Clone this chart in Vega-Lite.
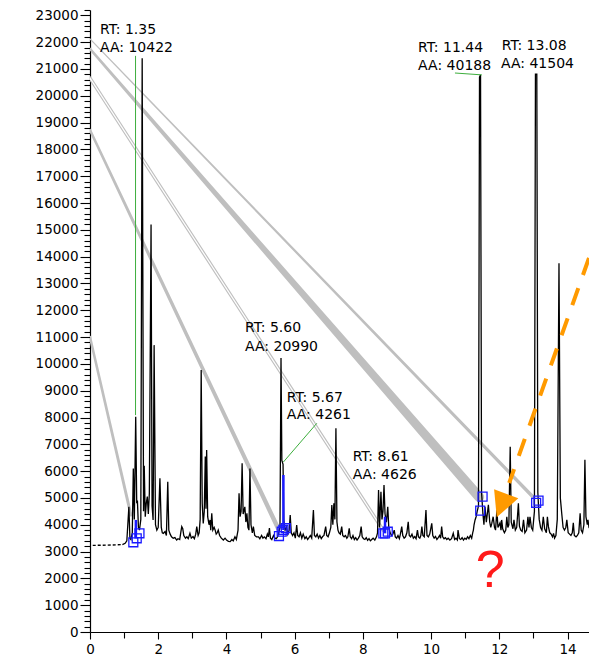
{
"$schema": "https://vega.github.io/schema/vega-lite/v6.json",
"width": 499, "height": 622,
"autosize": "none",
"padding": {"left": 90, "top": 10, "right": 0, "bottom": 27},
"background": "white",
"config": {"view": {"stroke": null}, "axis": {"grid": false, "domainColor": "black", "tickColor": "black", "labelColor": "black", "labelFont": "DejaVu Sans", "labelFontSize": 13.5, "domainWidth": 1.2, "tickWidth": 1.1}},
"datasets": {
"trace": [
{"t":0.95,"v":3260},{"t":1.03,"v":3310},{"t":1.08,"v":3400},{"t":1.14,"v":4670},{"t":1.17,"v":3500},{"t":1.2,"v":3450},{"t":1.24,"v":3700},{"t":1.27,"v":6100},{"t":1.3,"v":4200},{"t":1.34,"v":8030},{"t":1.37,"v":4800},{"t":1.39,"v":4900},{"t":1.42,"v":3900},{"t":1.45,"v":3800},{"t":1.49,"v":4200},{"t":1.53,"v":21400},{"t":1.57,"v":4500},{"t":1.59,"v":6200},{"t":1.62,"v":4300},{"t":1.65,"v":4800},{"t":1.68,"v":5050},{"t":1.71,"v":4400},{"t":1.74,"v":5170},{"t":1.79,"v":15200},{"t":1.82,"v":4700},{"t":1.85,"v":4180},{"t":1.88,"v":10700},{"t":1.92,"v":4000},{"t":1.96,"v":3800},{"t":2.0,"v":3900},{"t":2.05,"v":5730},{"t":2.09,"v":3900},{"t":2.12,"v":3700},{"t":2.15,"v":3680},{"t":2.2,"v":3750},{"t":2.24,"v":3600},{"t":2.28,"v":5600},{"t":2.31,"v":3800},{"t":2.35,"v":3650},{"t":2.39,"v":3550},{"t":2.44,"v":3500},{"t":2.49,"v":3520},{"t":2.54,"v":3430},{"t":2.58,"v":3480},{"t":2.63,"v":3450},{"t":2.66,"v":3700},{"t":2.69,"v":3930},{"t":2.72,"v":3850},{"t":2.75,"v":3600},{"t":2.8,"v":3500},{"t":2.84,"v":3550},{"t":2.88,"v":3480},{"t":2.93,"v":3680},{"t":2.97,"v":3500},{"t":3.02,"v":3560},{"t":3.06,"v":3480},{"t":3.1,"v":3650},{"t":3.13,"v":3930},{"t":3.17,"v":3600},{"t":3.2,"v":3700},{"t":3.23,"v":4200},{"t":3.26,"v":9770},{"t":3.29,"v":4800},{"t":3.32,"v":4050},{"t":3.35,"v":4500},{"t":3.38,"v":6550},{"t":3.4,"v":4600},{"t":3.42,"v":6790},{"t":3.45,"v":4300},{"t":3.49,"v":4000},{"t":3.52,"v":4180},{"t":3.54,"v":3800},{"t":3.57,"v":4430},{"t":3.6,"v":3800},{"t":3.64,"v":3900},{"t":3.67,"v":3800},{"t":3.7,"v":3650},{"t":3.73,"v":3700},{"t":3.76,"v":3800},{"t":3.8,"v":3600},{"t":3.85,"v":3500},{"t":3.91,"v":3430},{"t":3.96,"v":3500},{"t":4.01,"v":3420},{"t":4.06,"v":3380},{"t":4.11,"v":3370},{"t":4.16,"v":3450},{"t":4.2,"v":3400},{"t":4.25,"v":3550},{"t":4.29,"v":3450},{"t":4.34,"v":3800},{"t":4.37,"v":5170},{"t":4.4,"v":4300},{"t":4.43,"v":4500},{"t":4.46,"v":6290},{"t":4.49,"v":4400},{"t":4.51,"v":4500},{"t":4.54,"v":4670},{"t":4.57,"v":4100},{"t":4.6,"v":4430},{"t":4.63,"v":3900},{"t":4.66,"v":3800},{"t":4.69,"v":6100},{"t":4.72,"v":4000},{"t":4.76,"v":3700},{"t":4.79,"v":3930},{"t":4.83,"v":3600},{"t":4.88,"v":3550},{"t":4.94,"v":3550},{"t":4.98,"v":3480},{"t":5.03,"v":3600},{"t":5.07,"v":3500},{"t":5.11,"v":3550},{"t":5.16,"v":3480},{"t":5.2,"v":3650},{"t":5.23,"v":3550},{"t":5.26,"v":3880},{"t":5.29,"v":3500},{"t":5.33,"v":3450},{"t":5.38,"v":3600},{"t":5.42,"v":3500},{"t":5.46,"v":3480},{"t":5.5,"v":3550},{"t":5.53,"v":3700},{"t":5.57,"v":3900},{"t":5.6,"v":10220},{"t":5.625,"v":6400},{"t":5.66,"v":6250},{"t":5.68,"v":4200},{"t":5.72,"v":3800},{"t":5.76,"v":3900},{"t":5.8,"v":3650},{"t":5.84,"v":3800},{"t":5.87,"v":4364},{"t":5.9,"v":3700},{"t":5.94,"v":3600},{"t":5.98,"v":3700},{"t":6.02,"v":3500},{"t":6.06,"v":3990},{"t":6.09,"v":3600},{"t":6.13,"v":3550},{"t":6.17,"v":3700},{"t":6.21,"v":3500},{"t":6.25,"v":3650},{"t":6.3,"v":3480},{"t":6.34,"v":3550},{"t":6.38,"v":3450},{"t":6.42,"v":3520},{"t":6.46,"v":3600},{"t":6.5,"v":3500},{"t":6.55,"v":4550},{"t":6.58,"v":3600},{"t":6.62,"v":3550},{"t":6.66,"v":3650},{"t":6.7,"v":3500},{"t":6.74,"v":3600},{"t":6.78,"v":3480},{"t":6.82,"v":3560},{"t":6.86,"v":3600},{"t":6.91,"v":3930},{"t":6.94,"v":3600},{"t":6.98,"v":3550},{"t":7.02,"v":3700},{"t":7.06,"v":3900},{"t":7.09,"v":4740},{"t":7.12,"v":4000},{"t":7.15,"v":4800},{"t":7.18,"v":4200},{"t":7.21,"v":7600},{"t":7.24,"v":4100},{"t":7.27,"v":3800},{"t":7.3,"v":3700},{"t":7.34,"v":3650},{"t":7.38,"v":3930},{"t":7.41,"v":3600},{"t":7.45,"v":3550},{"t":7.49,"v":3600},{"t":7.53,"v":3500},{"t":7.56,"v":3550},{"t":7.6,"v":3870},{"t":7.63,"v":3550},{"t":7.67,"v":3480},{"t":7.71,"v":3600},{"t":7.75,"v":3450},{"t":7.79,"v":3520},{"t":7.83,"v":3430},{"t":7.87,"v":3500},{"t":7.91,"v":3600},{"t":7.95,"v":3930},{"t":7.98,"v":3550},{"t":8.02,"v":3480},{"t":8.06,"v":3450},{"t":8.1,"v":3520},{"t":8.14,"v":3420},{"t":8.18,"v":3480},{"t":8.22,"v":3400},{"t":8.26,"v":3450},{"t":8.3,"v":3500},{"t":8.35,"v":3430},{"t":8.4,"v":3550},{"t":8.43,"v":3700},{"t":8.46,"v":5300},{"t":8.49,"v":3900},{"t":8.53,"v":5230},{"t":8.56,"v":4200},{"t":8.59,"v":4500},{"t":8.62,"v":5480},{"t":8.65,"v":4400},{"t":8.69,"v":4100},{"t":8.73,"v":4670},{"t":8.76,"v":3900},{"t":8.8,"v":3700},{"t":8.84,"v":3600},{"t":8.88,"v":3650},{"t":8.92,"v":3800},{"t":8.95,"v":3550},{"t":8.99,"v":3500},{"t":9.03,"v":3600},{"t":9.07,"v":3480},{"t":9.1,"v":3650},{"t":9.14,"v":3930},{"t":9.17,"v":3600},{"t":9.21,"v":3500},{"t":9.25,"v":3550},{"t":9.29,"v":3700},{"t":9.33,"v":4110},{"t":9.36,"v":3600},{"t":9.4,"v":3550},{"t":9.44,"v":3650},{"t":9.48,"v":3500},{"t":9.52,"v":3560},{"t":9.56,"v":3480},{"t":9.6,"v":3800},{"t":9.63,"v":3550},{"t":9.67,"v":3500},{"t":9.7,"v":3600},{"t":9.73,"v":3930},{"t":9.76,"v":3600},{"t":9.8,"v":3550},{"t":9.85,"v":4550},{"t":9.88,"v":3600},{"t":9.92,"v":3550},{"t":9.96,"v":3650},{"t":10.02,"v":4050},{"t":10.05,"v":3600},{"t":10.09,"v":3500},{"t":10.13,"v":3560},{"t":10.17,"v":3450},{"t":10.21,"v":3520},{"t":10.25,"v":3600},{"t":10.28,"v":3500},{"t":10.31,"v":3930},{"t":10.34,"v":3550},{"t":10.38,"v":3480},{"t":10.42,"v":3520},{"t":10.46,"v":3450},{"t":10.5,"v":3500},{"t":10.55,"v":3430},{"t":10.6,"v":3480},{"t":10.65,"v":3680},{"t":10.69,"v":3450},{"t":10.73,"v":3500},{"t":10.77,"v":3430},{"t":10.79,"v":3800},{"t":10.83,"v":3480},{"t":10.87,"v":3450},{"t":10.91,"v":3520},{"t":10.95,"v":3430},{"t":10.99,"v":3500},{"t":11.03,"v":3460},{"t":11.07,"v":3550},{"t":11.11,"v":3480},{"t":11.15,"v":3600},{"t":11.19,"v":3500},{"t":11.22,"v":3700},{"t":11.24,"v":3800},{"t":11.26,"v":4000},{"t":11.29,"v":4180},{"t":11.32,"v":4300},{"t":11.35,"v":4490},{"t":11.39,"v":4700},{"t":11.42,"v":20700},{"t":11.45,"v":20780},{"t":11.48,"v":5200},{"t":11.52,"v":4400},{"t":11.55,"v":4000},{"t":11.58,"v":4670},{"t":11.62,"v":4100},{"t":11.68,"v":4740},{"t":11.72,"v":4100},{"t":11.75,"v":3900},{"t":11.78,"v":4050},{"t":11.82,"v":4300},{"t":11.86,"v":3900},{"t":11.89,"v":3800},{"t":11.93,"v":4550},{"t":11.96,"v":3900},{"t":12.02,"v":4070},{"t":12.05,"v":3800},{"t":12.07,"v":4180},{"t":12.1,"v":3850},{"t":12.15,"v":3700},{"t":12.19,"v":3800},{"t":12.22,"v":4300},{"t":12.25,"v":3900},{"t":12.28,"v":4000},{"t":12.32,"v":6910},{"t":12.35,"v":4100},{"t":12.4,"v":3850},{"t":12.43,"v":4180},{"t":12.47,"v":3800},{"t":12.51,"v":3900},{"t":12.56,"v":4800},{"t":12.59,"v":3950},{"t":12.63,"v":3800},{"t":12.67,"v":3750},{"t":12.71,"v":4180},{"t":12.75,"v":3700},{"t":12.8,"v":3800},{"t":12.84,"v":4300},{"t":12.87,"v":3900},{"t":12.9,"v":4300},{"t":12.94,"v":3900},{"t":12.98,"v":3800},{"t":13.03,"v":4500},{"t":13.06,"v":20810},{"t":13.1,"v":20810},{"t":13.13,"v":5200},{"t":13.17,"v":4200},{"t":13.21,"v":3900},{"t":13.25,"v":3800},{"t":13.29,"v":4300},{"t":13.33,"v":3850},{"t":13.38,"v":3700},{"t":13.41,"v":4300},{"t":13.44,"v":3930},{"t":13.48,"v":3700},{"t":13.52,"v":3650},{"t":13.56,"v":3550},{"t":13.59,"v":3680},{"t":13.62,"v":3500},{"t":13.66,"v":3600},{"t":13.7,"v":4200},{"t":13.75,"v":13750},{"t":13.79,"v":5000},{"t":13.83,"v":4430},{"t":13.87,"v":3900},{"t":13.91,"v":3800},{"t":13.95,"v":3900},{"t":13.98,"v":4180},{"t":14.02,"v":3700},{"t":14.06,"v":3650},{"t":14.1,"v":3600},{"t":14.14,"v":3700},{"t":14.17,"v":4070},{"t":14.2,"v":3600},{"t":14.25,"v":3550},{"t":14.29,"v":3600},{"t":14.33,"v":3700},{"t":14.37,"v":4430},{"t":14.4,"v":3800},{"t":14.44,"v":3700},{"t":14.48,"v":4000},{"t":14.51,"v":6420},{"t":14.54,"v":4300},{"t":14.58,"v":4000},{"t":14.6,"v":4180},{"t":14.63,"v":3900},{"t":14.7,"v":3800}
],
"dotted": [{"t":0.08,"v":3230},{"t":0.5,"v":3240},{"t":0.95,"v":3260}],
"beams": [
{"b":"A","p":"A0","t":0,"v":22120},{"b":"A","p":"A1","t":12.99,"v":5036},
{"b":"B","p":"B0","t":0,"v":21750},{"b":"B","p":"B1","t":11.41,"v":5036},
{"b":"C","p":"C0","t":0,"v":20660},{"b":"C","p":"C1","t":8.59,"v":3805},
{"b":"D","p":"D0","t":0,"v":18725},{"b":"D","p":"D1","t":5.52,"v":3850},
{"b":"E","p":"E0","t":0,"v":11000},{"b":"E","p":"E1","t":1.2,"v":4364}
],
"green": [
{"g":"g1","t":1.335,"v":21490},{"g":"g1","t":1.3351,"v":8090},
{"g":"g2","t":5.67,"v":6340},{"g":"g2","t":6.65,"v":7785},
{"g":"g3","t":10.7,"v":20850},{"g":"g3","t":11.49,"v":20780}
],
"squares": [
{"t":1.27,"v":3346},{"t":1.37,"v":3495},{"t":1.45,"v":3682},
{"t":5.54,"v":3580},{"t":5.62,"v":3740},{"t":5.67,"v":3805},{"t":5.74,"v":3870},
{"t":8.6,"v":3680},{"t":8.65,"v":3680},{"t":8.73,"v":3740},
{"t":11.51,"v":5050},{"t":11.44,"v":4525},
{"t":13.08,"v":4820},{"t":13.15,"v":4900}
],
"bluerules": [
{"t":1.345,"v":4180,"v2":3540},{"t":5.67,"v":5856,"v2":3805},{"t":8.65,"v":4300,"v2":3680}
],
"arrow": [{"t":14.63,"v":13950},{"t":12.29,"v":5558}],
"head": [{"t":12.205,"v":4800}],
"labels": [
{"s":"RT: 1.35","t":0.293,"v":22455},{"s":"AA: 10422","t":0.293,"v":21783},
{"s":"RT: 11.44","t":9.62,"v":21783},{"s":"AA: 40188","t":9.62,"v":21112},
{"s":"RT: 13.08","t":12.07,"v":21858},{"s":"AA: 41504","t":12.05,"v":21186},
{"s":"RT: 5.60","t":4.545,"v":11339},{"s":"AA: 20990","t":4.545,"v":10630},
{"s":"RT: 5.67","t":5.77,"v":8717},{"s":"AA: 4261","t":5.77,"v":8094},
{"s":"RT: 8.61","t":7.7,"v":6516},{"s":"AA: 4626","t":7.7,"v":5856}
],
"qmark": [{"s":"?","t":11.73,"v":1680}]
},
"encoding": {
"x": {"field": "t", "type": "quantitative", "scale": {"domain": [0, 14.63], "nice": false, "zero": false},
  "axis": {"title": null, "values": [0,0.5,1,1.5,2,2.5,3,3.5,4,4.5,5,5.5,6,6.5,7,7.5,8,8.5,9,9.5,10,10.5,11,11.5,12,12.5,13,13.5,14,14.5],
   "labelExpr": "datum.value % 2 === 0 ? datum.label : ''", "labelFlush": false, "labelOverlap": false, "format": "d",
   "tickSize": {"condition": {"test": "datum.value % 2 === 0", "value": 7}, "value": 6}, "labelPadding": 3}},
"y": {"field": "v", "type": "quantitative", "scale": {"domain": [0, 23200], "nice": false},
  "axis": {"title": null, "values": [0,200,400,600,800,1000,1200,1400,1600,1800,2000,2200,2400,2600,2800,3000,3200,3400,3600,3800,4000,4200,4400,4600,4800,5000,5200,5400,5600,5800,6000,6200,6400,6600,6800,7000,7200,7400,7600,7800,8000,8200,8400,8600,8800,9000,9200,9400,9600,9800,10000,10200,10400,10600,10800,11000,11200,11400,11600,11800,12000,12200,12400,12600,12800,13000,13200,13400,13600,13800,14000,14200,14400,14600,14800,15000,15200,15400,15600,15800,16000,16200,16400,16600,16800,17000,17200,17400,17600,17800,18000,18200,18400,18600,18800,19000,19200,19400,19600,19800,20000,20200,20400,20600,20800,21000,21200,21400,21600,21800,22000,22200,22400,22600,22800,23000,23200],
   "labelExpr": "datum.value % 1000 === 0 ? datum.label : ''", "labelFlush": false, "labelOverlap": false, "format": "d",
   "tickSize": {"condition": {"test": "datum.value % 1000 === 0", "value": 10}, "value": 6}, "labelPadding": 2}}
},
"layer": [
{"data": {"name": "beams"}, "mark": {"type": "trail", "color": "#bfbfbf", "clip": true},
 "encoding": {"detail": {"field": "b"}, "size": {"field": "p", "type": "ordinal", "legend": null,
   "scale": {"type": "ordinal", "domain": ["A0","A1","B0","B1","C0","C1","D0","D1","E0","E1"], "range": [1.2,3.5,2.5,10,3.5,3.5,2.5,4.5,2.5,3]}}}},
{"data": {"name": "beams"}, "transform": [{"filter": "datum.b === 'C'"}], "mark": {"type": "line", "color": "white", "strokeWidth": 1.2, "clip": true},
 "encoding": {"detail": {"field": "b"}}},
{"data": {"name": "dotted"}, "mark": {"type": "line", "color": "black", "strokeWidth": 1.4, "strokeDash": [3, 2]}, "encoding": {}},
{"data": {"name": "trace"}, "mark": {"type": "line", "color": "black", "strokeWidth": 1.3, "clip": true}, "encoding": {}},
{"data": {"name": "green"}, "mark": {"type": "line", "color": "#3dae3d", "strokeWidth": 1}, "encoding": {"detail": {"field": "g"}}},
{"data": {"name": "bluerules"}, "mark": {"type": "rule", "color": "#1a1aff", "strokeWidth": 2.5}, "encoding": {"y2": {"field": "v2"}}},
{"data": {"name": "squares"}, "mark": {"type": "point", "shape": "square", "filled": false, "color": "#1a1aff", "size": 80, "strokeWidth": 1.3, "opacity": 1}, "encoding": {}},
{"data": {"name": "arrow"}, "mark": {"type": "line", "color": "#ff9a00", "strokeWidth": 4, "strokeDash": [18, 14], "strokeCap": "butt", "clip": true}, "encoding": {"order": {"value": null}}},
{"data": {"name": "head"}, "mark": {"type": "point", "shape": "M-0.87,-1L0.86,-0.36L-0.68,1Z", "filled": true, "color": "#ff9a00", "size": 784, "opacity": 1, "strokeWidth": 0}, "encoding": {}},
{"data": {"name": "labels"}, "mark": {"type": "text", "align": "left", "baseline": "middle", "font": "DejaVu Sans", "fontSize": 14, "color": "black"}, "encoding": {"text": {"field": "s"}}},
{"data": {"name": "qmark"}, "mark": {"type": "text", "align": "center", "baseline": "alphabetic", "font": "Liberation Sans", "fontSize": 52, "color": "#ff1a1a"}, "encoding": {"text": {"field": "s"}}}
]
}
